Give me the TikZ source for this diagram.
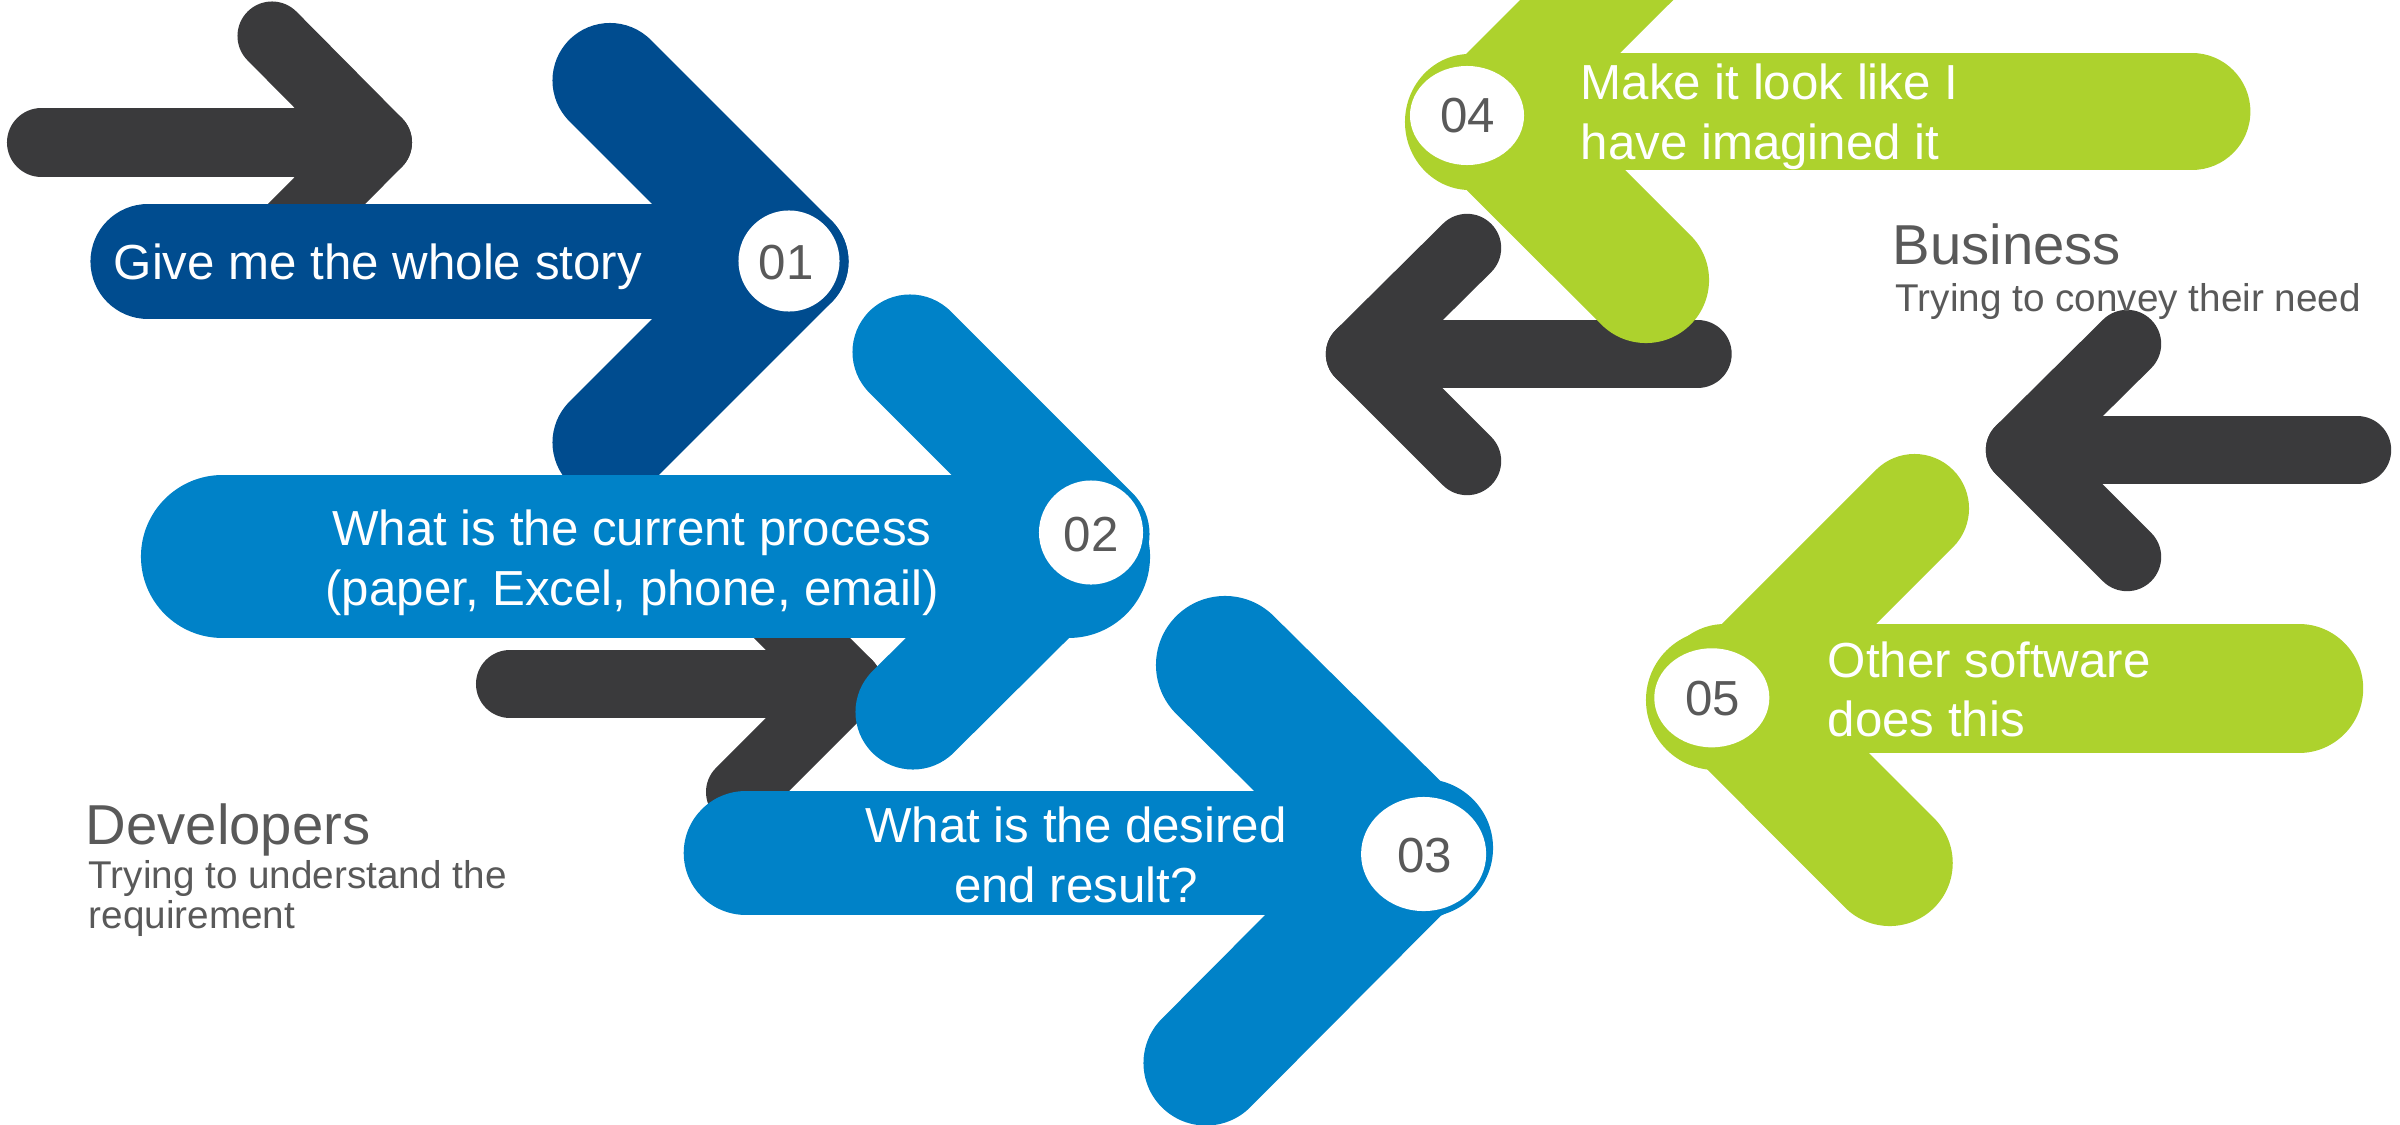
\documentclass[tikz,border=0pt]{standalone}
\usepackage{fontspec}
\setmainfont{Liberation Sans}
\definecolor{dkblue}{HTML}{004C8F}
\definecolor{mdblue}{HTML}{0082C8}
\definecolor{lime}{HTML}{ADD22D}
\definecolor{arrowgray}{HTML}{3A3A3C}
\definecolor{txtgray}{HTML}{595959}
\begin{document}
\begin{tikzpicture}[x=0.01cm,y=-0.01cm,
  bar/.style={line cap=round, line join=round},
  lbl/.style={inner sep=0pt, text=white, font=\fontsize{14}{17}\selectfont},
  num/.style={inner sep=0pt, text=txtgray, font=\fontsize{14}{17}\selectfont},
  head/.style={inner sep=0pt, text=txtgray, anchor=base west, font=\fontsize{16}{19}\selectfont},
  subhead/.style={inner sep=0pt, text=txtgray, anchor=base west, font=\fontsize{11}{13}\selectfont}]
\useasboundingbox (0,0) rectangle (2400,1124);
\clip (0,0) rectangle (2400,1124);

% gray arrow A (top left)
\draw[bar, arrowgray, line width=0.69cm] (41.5,142.5) -- (377.5,142.5);
\draw[bar, arrowgray, line width=0.69cm] (272,36) -- (377.5,142.5) -- (272,249);

% arrow 01
\draw[bar, dkblue, line width=1.15cm] (610,80.5) -- (791,261.5) -- (610,442.5);
\draw[bar, dkblue, line width=1.15cm] (148,261.5) -- (791,261.5);
\fill[white] (789,261) circle[radius=0.505cm];
\node[num] (n01) at (786,263) {01};
\node[lbl, anchor=base west] (t01) at (113,279.3) {Give me the whole story};

% gray arrow B
\draw[bar, arrowgray, line width=0.68cm] (510,684) -- (848,684);
\draw[bar, arrowgray, line width=0.68cm] (740,576) -- (848,684) -- (740,792);

% arrow 02
\draw[bar, mdblue, line width=1.15cm] (910,352) -- (1092,534) -- (913,712);
\draw[bar, mdblue, line width=1.63cm] (222.5,556.7) -- (1068.5,556.7);
\fill[white] (1091,532.5) circle[radius=0.52cm];
\node[num] (n02) at (1091,534.7) {02};
\node[lbl, anchor=base] (t02a) at (632,545) {What is the current process};
\node[lbl, anchor=base] (t02b) at (632,605) {(paper, Excel, phone, email)};

% arrow 03
\draw[bar, mdblue, line width=1.245cm] (746,853) -- (1416,853);
\draw[bar, mdblue, line width=1.38cm] (1225,665) -- (1414,852);
\draw[bar, mdblue, line width=1.25cm] (1416,852) -- (1206,1063);
\fill[mdblue] (1424,848) circle[radius=0.69cm];
\fill[white] (1423.6,854) ellipse[x radius=0.625cm, y radius=0.57cm];
\node[num] (n03) at (1424.7,856) {03};
\node[lbl, anchor=base] (t03a) at (1076,842.7) {What is the desired};
\node[lbl, anchor=base] (t03b) at (1076,902.7) {end result?};

% gray arrow C
\draw[bar, arrowgray, line width=0.683cm] (1360,354) -- (1697.5,354);
\draw[bar, arrowgray, line width=0.683cm] (1467,248) -- (1360,354) -- (1467,461);

% arrow 04
\draw[bar, lime, line width=1.08cm] (1481,115.4) -- (1697,-100);
\draw[bar, lime, line width=1.26cm] (1481,115.4) -- (1646,280);
\draw[bar, lime, line width=1.167cm] (1481,111.7) -- (2192,111.7);
\fill[lime] (1470,122) ellipse[x radius=0.65cm, y radius=0.68cm];
\fill[white] (1467,115.5) ellipse[x radius=0.57cm, y radius=0.495cm];
\node[num] (n04) at (1467.5,116) {04};
\node[lbl, anchor=base west] (t04a) at (1580,99.3) {Make it look like I};
\node[lbl, anchor=base west] (t04b) at (1580,159.3) {have imagined it};

% gray arrow D
\draw[bar, arrowgray, line width=0.683cm] (2020,450) -- (2357,450);
\draw[bar, arrowgray, line width=0.683cm] (2127,344) -- (2020,450) -- (2127,557);

% arrow 05
\draw[bar, lime, line width=1.09cm] (1914.5,508.5) -- (1725,698);
\draw[bar, lime, line width=1.26cm] (1725,698) -- (1889.7,863);
\draw[bar, lime, line width=1.283cm] (1725,688.5) -- (2299,688.5);
\fill[lime] (1716,700) circle[radius=0.70cm];
\fill[white] (1711.8,697.8) ellipse[x radius=0.575cm, y radius=0.495cm];
\node[num] (n05) at (1712.5,699) {05};
\node[lbl, anchor=base west] (t05a) at (1827,677.3) {Other software};
\node[lbl, anchor=base west] (t05b) at (1827,736.7) {does this};

% side captions
\node[head] (dev) at (85,844) {Developers};
\node[subhead] (devsub1) at (88,888.5) {Trying to understand the};
\node[subhead] (devsub2) at (88,928.6) {requirement};
\node[head] (bus) at (1892,264.7) {Business};
\node[subhead] (bussub) at (1895,311.2) {Trying to convey their need};
\end{tikzpicture}
\end{document}
